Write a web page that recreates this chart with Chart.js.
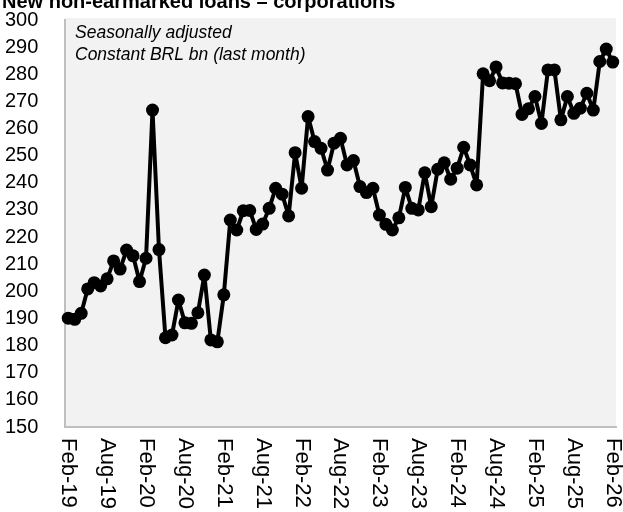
<!DOCTYPE html>
<html>
<head>
<meta charset="utf-8">
<script src="https://cdn.jsdelivr.net/npm/chart.js@4.4.1/dist/chart.umd.min.js"></script>
<style>
  html, body { margin: 0; padding: 0; background: #fff; }
  #wrap { width: 623px; height: 512px; position: relative; }
</style>
</head>
<body>
<div id="wrap"><canvas id="loans"></canvas></div>
<script>
// monthly, Feb-19 .. Feb-26
var monthNames = ['Jan','Feb','Mar','Apr','May','Jun','Jul','Aug','Sep','Oct','Nov','Dec'];
var firstYear = 2019, firstMonth = 1, nMonths = 85;

var loans = [
  190.1, 189.7, 191.9, 200.9, 203.2, 202.0, 204.6, 211.2, 208.2, 215.2, 213.1, 203.6,
  212.2, 266.8, 215.4, 182.9, 183.9, 196.8, 188.4, 188.2, 192.1, 206.0, 182.1, 181.4,
  198.7, 226.3, 222.6, 229.7, 229.8, 222.8, 224.8, 230.6, 238.0, 235.8, 227.8, 251.1,
  238.0, 264.4, 255.2, 252.7, 244.7, 254.6, 256.4, 246.6, 248.2, 238.6, 236.4, 238.0,
  228.1, 224.7, 222.6, 227.1, 238.3, 230.6, 230.0, 243.7, 231.2, 245.0, 247.4, 241.3,
  245.4, 253.1, 246.6, 239.2, 280.2, 277.6, 282.7, 276.8, 276.7, 276.5, 265.2, 267.3,
  271.8, 261.9, 281.6, 281.6, 263.2, 271.8, 265.6, 267.5, 273.0, 266.8, 284.7, 289.3,
  284.5
];

var title = 'New non-earmarked loans \u2013 corporations';
var note = ['Seasonally adjusted', 'Constant BRL bn (last month)'];

var months = [];
for (var i = 0; i < nMonths; i++) {
  var m = (firstMonth + i) % 12;
  var y = firstYear + Math.floor((firstMonth + i) / 12);
  months.push(monthNames[m] + '-' + String(y).slice(2));
}

var FONT = '"Liberation Sans", Arial, sans-serif';

var chartDecor = {
  id: 'chartDecor',
  beforeDraw: function(chart) {
    var a = chart.chartArea, ctx = chart.ctx;
    ctx.save();
    ctx.fillStyle = '#f2f2f2';
    ctx.fillRect(a.left, a.top - 2, a.right - a.left, a.bottom - a.top + 2);
    ctx.restore();
  },
  afterDraw: function(chart) {
    var a = chart.chartArea, ctx = chart.ctx, xs = chart.scales.x;
    ctx.save();
    // title, its top is cut off by the canvas edge
    ctx.fillStyle = '#000';
    ctx.font = 'bold 20px ' + FONT;
    ctx.textAlign = 'left';
    ctx.textBaseline = 'alphabetic';
    ctx.fillText(title, 2, 8);
    // note inside the plot
    ctx.font = 'italic 17.5px ' + FONT;
    ctx.fillText(note[0], 75, 38);
    ctx.fillText(note[1], 75, 60);
    // x labels, rotated clockwise
    ctx.font = '22px ' + FONT;
    ctx.textBaseline = 'middle';
    for (var i = 0; i < months.length; i += 6) {
      ctx.save();
      ctx.translate(xs.getPixelForValue(i), a.bottom + 11);
      ctx.rotate(Math.PI / 2);
      ctx.fillText(months[i], 0, 0);
      ctx.restore();
    }
    ctx.restore();
  }
};

new Chart(document.getElementById('loans'), {
  type: 'line',
  data: {
    labels: months,
    datasets: [{
      data: loans,
      borderColor: '#000',
      backgroundColor: '#000',
      borderWidth: 4,
      borderJoinStyle: 'round',
      pointRadius: 6.5,
      pointHoverRadius: 6.5,
      pointBackgroundColor: '#000',
      pointBorderWidth: 0,
      tension: 0
    }]
  },
  options: {
    responsive: true,
    maintainAspectRatio: false,
    animation: false,
    layout: { padding: { top: 20, right: 7, bottom: 85, left: 5 } },
    plugins: { legend: { display: false }, tooltip: { enabled: false } },
    scales: {
      x: {
        offset: true,
        grid: { display: false, drawTicks: false },
        border: { display: true, color: '#bfbfbf', width: 2 },
        ticks: { display: false },
        afterFit: function(s) { s.height = 0; }
      },
      y: {
        min: 150,
        max: 300,
        grid: { display: false, drawTicks: false },
        border: { display: true, color: '#bfbfbf', width: 2 },
        ticks: { stepSize: 10, color: '#000', padding: 0, crossAlign: 'far', font: { family: FONT, size: 20 } },
        afterFit: function(s) { s.width = 60; }
      }
    }
  },
  plugins: [chartDecor]
});
</script>
</body>
</html>
